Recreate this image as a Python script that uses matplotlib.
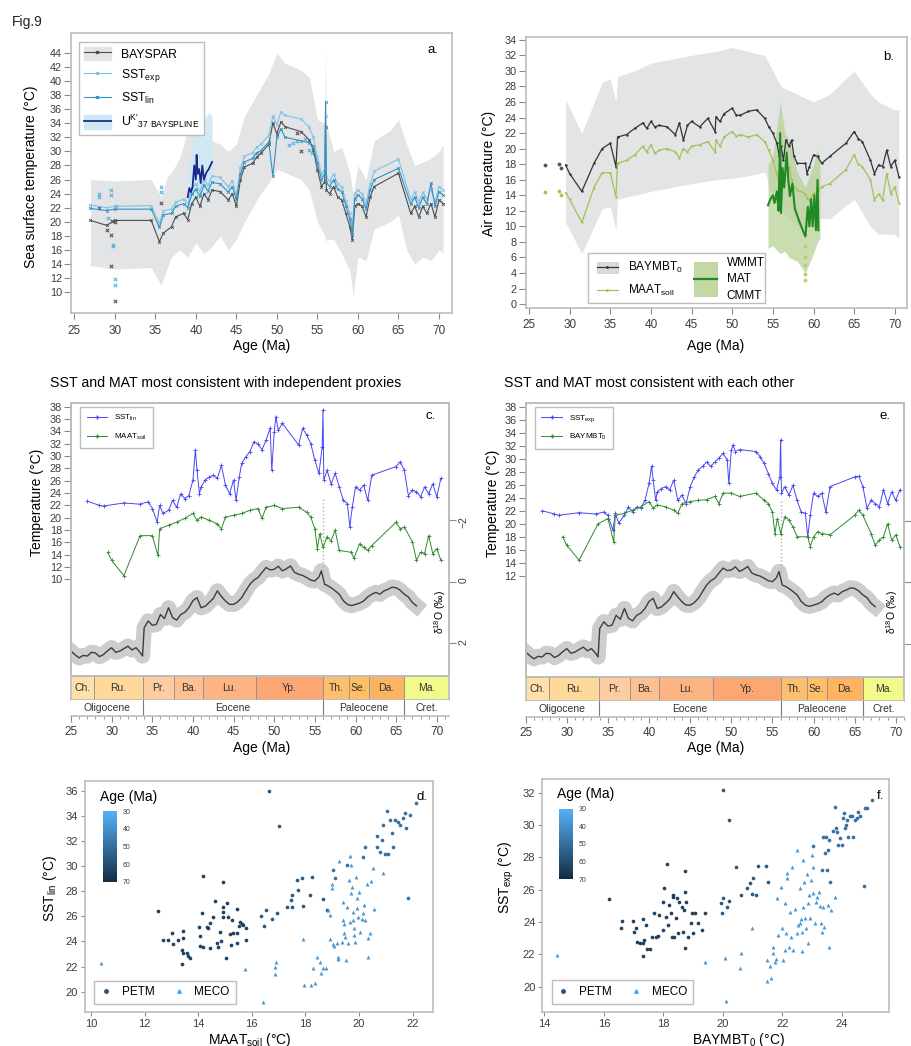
import matplotlib
matplotlib.use('Agg')
import matplotlib.pyplot as plt
from matplotlib.patches import Patch, Rectangle
from matplotlib.lines import Line2D
from matplotlib.colors import LinearSegmentedColormap, Normalize
from matplotlib.cm import ScalarMappable

plt.rcParams['font.family'] = ['Liberation Sans', 'DejaVu Sans']
plt.rcParams['mathtext.fontset'] = 'custom'
plt.rcParams['mathtext.rm'] = 'Liberation Sans'
plt.rcParams['mathtext.default'] = 'regular'
plt.rcParams['axes.edgecolor'] = '#bdbdbd'
plt.rcParams['axes.linewidth'] = 1.2
plt.rcParams['xtick.color'] = '#8a8a8a'
plt.rcParams['ytick.color'] = '#8a8a8a'
plt.rcParams['xtick.labelcolor'] = '#3c3c3c'
plt.rcParams['ytick.labelcolor'] = '#3c3c3c'

W, H = 912, 1046

# ---------------- panel a: SST reconstructions ----------------
a_age = [27, 29, 30, 34.5, 35.5, 36, 37, 37.5, 38.5, 39, 39.5, 40, 40.5, 41, 41.5,
         42, 43, 44, 44.5, 45, 45.5, 46, 47, 47.5, 48, 49, 49.5, 50, 50.5, 51,
         53, 54, 54.5, 55, 55.5, 55.9, 56, 56.1, 56.5, 57, 57.5, 58, 58.5, 59, 59.3,
         59.6, 60, 60.5, 61, 61.5, 62, 65, 66.5, 67, 67.5, 68, 68.5, 69, 69.5, 70, 70.5]
bayspar = [20.2, 19.5, 20.2, 20.2, 17.2, 18.4, 19.3, 20.7, 21.2, 20.3, 22.6, 23.5, 22.2, 24.0, 23.1,
           24.5, 24.3, 23.1, 24.0, 22.2, 26.0, 27.8, 28.3, 29.2, 29.7, 31.0, 34.0, 32.5, 34.2, 33.5,
           32.8, 31.6, 30.2, 27.4, 25.0, 25.7, 33.5, 24.5, 24.0, 25.0, 23.5, 23.1, 21.2, 19.3, 17.4,
           22.2, 22.6, 22.2, 20.7, 23.5, 25.0, 26.9, 21.2, 22.2, 20.7, 22.2, 21.2, 22.6, 20.7, 23.1, 22.6]
sst_exp_a = [22.4, 22.0, 22.2, 22.3, 19.8, 21.6, 21.8, 22.8, 23.2, 22.6, 24.6, 25.4, 24.3, 26.0, 25.2,
             26.5, 26.3, 25.0, 25.8, 23.8, 27.6, 29.3, 29.8, 30.6, 31.0, 32.3, 35.0, 33.8, 35.6, 35.1,
             34.6, 33.4, 32.0, 29.2, 26.8, 27.5, 35.0, 26.3, 25.8, 26.8, 25.3, 25.0, 23.0, 21.2, 19.2,
             24.0, 24.5, 24.0, 22.6, 25.3, 27.2, 28.9, 23.2, 24.2, 22.8, 24.2, 23.2, 24.6, 22.8, 25.0, 24.5]
sst_lin_a = [21.9, 21.6, 21.8, 21.8, 19.2, 21.0, 21.2, 22.2, 22.6, 22.0, 23.9, 24.6, 23.6, 25.2, 24.4,
             25.6, 25.4, 24.2, 25.0, 23.2, 26.8, 28.5, 29.0, 29.8, 30.1, 31.3, 26.5, 32.0, 33.2, 32.0,
             31.5, 31.2, 30.8, 28.3, 26.0, 26.8, 37.0, 25.6, 25.0, 26.0, 24.6, 24.3, 22.3, 20.4, 18.2,
             23.2, 23.8, 23.3, 21.8, 24.5, 26.0, 27.6, 22.5, 23.5, 22.0, 23.5, 22.5, 25.5, 22.2, 24.3, 23.8]
a_env_age = [27, 30, 34.5, 35.7, 36.5, 37, 38, 39, 40, 41, 42, 43, 44, 45, 46, 47, 48, 49, 50, 51,
             53, 54, 55, 55.9, 56, 56.1, 57, 58, 59, 59.4, 60, 61, 62, 64, 65, 66, 67, 68, 69, 70, 70.5]
a_env_hi = [26.0, 25.8, 26.0, 23.5, 26.5, 27.0, 29.0, 33.0, 34.5, 32.0, 31.5, 31.0, 30.0, 31.0, 35.0,
            37.0, 39.0, 41.0, 44.0, 42.5, 41.5, 40.5, 34.5, 34.0, 45.0, 34.0, 30.0, 30.5, 27.0, 24.0,
            28.0, 26.0, 31.5, 33.0, 34.5, 31.0, 28.0, 28.5, 29.0, 30.0, 31.0]
a_env_lo = [13.8, 13.3, 13.5, 11.0, 13.5, 15.0, 16.0, 15.0, 17.0, 15.5, 16.5, 18.0, 16.0, 17.5, 20.0,
            22.0, 24.0, 25.5, 27.5, 27.0, 26.0, 24.5, 20.0, 18.0, 17.0, 17.5, 17.5, 15.5, 13.0, 9.5,
            15.0, 14.5, 19.0, 20.0, 21.0, 16.0, 14.0, 15.0, 14.5, 16.0, 15.5]
uk_age = [39.0, 39.2, 39.4, 39.6, 39.8, 40.0, 40.1, 40.2, 40.4, 40.6, 40.8, 41.0, 41.3, 41.6, 42.0]
uk_val = [23.5, 24.8, 24.2, 25.0, 28.0, 26.0, 29.5, 26.8, 27.5, 25.5, 28.0, 26.0, 27.0, 27.5, 28.5]
uk_hi = [27.5, 29.0, 30.0, 31.5, 34.0, 33.0, 36.0, 37.5, 35.0, 34.0, 36.0, 34.5, 35.0, 35.5, 35.0]
uk_lo = [21.0, 21.5, 21.5, 22.0, 23.5, 22.5, 24.5, 25.0, 22.5, 22.0, 24.0, 22.5, 23.0, 24.0, 25.0]
a_pts_blue_age = [28, 28, 29.5, 29.5, 29.2, 29.8, 29.8, 30, 30, 35.7, 35.7, 30.1, 51.5, 52, 52.5, 53.5, 54, 54.3]
a_pts_blue = [24.0, 23.5, 24.5, 23.8, 20.6, 16.5, 16.7, 11.9, 11.0, 24.9, 24.3, 22.3, 30.9, 31.2, 31.5, 31.8, 30.2, 29.8]
a_pts_gray_age = [28, 29, 29.5, 29.6, 30, 29.5, 30, 35.7, 52.5, 53]
a_pts_gray = [22.0, 18.8, 18.2, 20.1, 20.0, 13.8, 8.7, 22.7, 32.6, 30.0]

# ---------------- panel b: air temperatures ----------------
b_age = [29.5, 30, 31.5, 33, 34, 35, 35.7, 35.9, 37, 38, 39, 39.5, 40, 40.5, 41, 42, 43, 43.5, 44, 44.5,
         45, 46, 47, 47.9, 48, 48.5, 49, 50, 50.5, 51, 52, 53, 54, 54.5, 55, 55.5, 55.8, 56, 56.3, 56.6,
         57, 57.3, 57.6, 58, 59, 59.2, 59.5, 60, 60.5, 61, 62, 64, 65, 65.5, 66, 67, 67.5, 68, 68.5, 69,
         69.5, 70, 70.5]
baymbt_b = [17.9, 16.8, 14.5, 18.1, 20.0, 20.7, 17.7, 21.5, 21.8, 22.6, 23.3, 22.6, 23.5, 22.8, 23.0,
            22.8, 21.8, 23.3, 21.1, 23.0, 23.5, 22.8, 23.9, 22.2, 24.1, 23.5, 24.5, 25.2, 24.3, 24.3,
            24.8, 25.0, 23.9, 22.8, 22.0, 20.7, 19.0, 20.3, 18.5, 21.1, 20.3, 21.1, 19.0, 18.1, 18.1,
            16.8, 17.7, 19.2, 19.0, 18.1, 19.0, 20.7, 22.2, 21.3, 20.9, 18.5, 16.8, 17.9, 17.7, 19.8,
            17.7, 18.5, 16.4]
maat_b = [14.3, 13.5, 10.5, 15.0, 16.9, 16.9, 13.8, 18.1, 18.5, 19.2, 20.3, 19.6, 20.5, 19.4, 19.8,
          20.0, 19.6, 18.8, 20.0, 19.6, 20.3, 20.5, 20.9, 19.6, 21.1, 20.3, 21.5, 22.2, 21.6, 21.8,
          21.5, 21.8, 20.9, 19.8, 18.5, 16.8, 15.5, 17.7, 15.5, 17.2, 17.7, 16.0, 15.1, 14.7, 14.2,
          13.6, 13.4, 14.2, 14.6, 15.1, 15.5, 17.3, 19.2, 18.0, 17.7, 16.0, 13.4, 14.2, 13.4, 16.8,
          14.2, 15.1, 13.0]
b_env_age = [29.5, 31.5, 34, 35, 35.7, 35.9, 38, 40, 45, 48, 50, 52, 54, 55, 56, 57, 58, 59, 60, 62,
             65, 67, 68, 70, 70.5]
b_env_hi = [26.3, 22.0, 28.5, 29.0, 26.0, 29.3, 30.0, 31.0, 32.0, 32.5, 33.0, 32.5, 32.0, 30.0, 28.0,
            27.5, 27.0, 26.5, 26.0, 27.0, 30.0, 27.0, 26.0, 25.0, 25.0]
b_env_lo = [10.5, 6.5, 12.3, 12.5, 9.5, 13.5, 14.0, 14.5, 15.5, 16.0, 16.2, 16.5, 17.0, 14.0, 12.0,
            11.0, 10.0, 9.5, 11.0, 11.0, 13.5, 10.0, 9.0, 9.0, 8.5]
b_pts_age = [27, 28.7, 28.9]
b_pts_mbt = [17.9, 18.0, 17.5]
b_pts_maat = [14.4, 14.5, 14.0]
b_drop_age = [59, 59, 59, 59, 59, 59]
b_drop_maat = [9.0, 7.5, 6.0, 5.0, 3.9, 3.1]
mat_age = [54.4, 54.7, 55.0, 55.2, 55.5, 55.7, 55.9, 56.0, 56.2, 56.4, 56.7, 56.9, 57.1, 57.4, 57.7,
           58.3, 59.0, 59.3, 59.5, 59.7, 59.9, 60.1, 60.3, 60.5, 60.6]
mat = [12.7, 13.5, 14.0, 13.0, 14.5, 12.0, 22.0, 11.7, 17.5, 15.0, 19.5, 16.0, 13.9, 15.5, 12.3,
       10.5, 8.7, 12.5, 10.0, 13.5, 10.0, 14.0, 9.5, 16.0, 9.5]
mm_age = [54.4, 55.0, 55.9, 56.5, 57.0, 58.0, 59.0, 60.0, 60.5, 60.8]
wmmt = [18.0, 19.0, 26.0, 22.0, 21.0, 17.0, 15.0, 18.0, 20.0, 18.0]
cmmt = [7.2, 7.5, 6.5, 6.8, 6.0, 5.5, 4.0, 6.5, 8.0, 8.5]

# ---------------- panels c and e: selected records + benthic d18O ----------------
c_sst_age = [27, 28.5, 29, 31.5, 33.5, 34.5, 35, 35.6, 35.9, 36.3, 37, 37.5, 38, 38.5, 39, 39.5, 40,
             40.3, 40.5, 40.8, 41, 41.5, 42, 42.5, 43, 43.5, 44, 44.5, 45, 45.3, 45.7, 46, 46.5, 47,
             47.5, 48, 48.5, 49, 49.5, 49.7, 50, 50.2, 50.5, 51, 53, 53.5, 54, 54.5, 55, 55.5, 55.9,
             56, 56.1, 56.5, 57, 57.5, 58, 58.5, 59, 59.3, 59.6, 60, 60.5, 61, 61.5, 62, 65, 65.5, 66,
             66.5, 67, 67.5, 68, 68.5, 69, 69.5, 70, 70.5]
c_sst = [22.7, 22.0, 21.9, 22.4, 22.2, 22.6, 21.5, 19.3, 22.0, 20.7, 21.2, 22.8, 21.7, 23.9, 23.1,
         23.6, 26.1, 31.0, 27.7, 23.9, 25.0, 26.1, 26.6, 26.9, 26.4, 28.5, 25.3, 23.9, 26.1, 22.8,
         26.6, 28.8, 29.9, 30.7, 32.3, 32.0, 31.0, 32.6, 34.5, 27.7, 33.9, 36.4, 34.2, 35.3, 31.8,
         34.5, 33.4, 32.0, 29.3, 27.2, 31.5, 37.5, 26.1, 27.7, 25.5, 27.2, 25.0, 22.8, 22.3, 18.5,
         21.7, 25.0, 24.5, 25.3, 22.8, 26.9, 28.3, 29.1, 27.7, 23.6, 24.5, 24.2, 23.4, 25.0, 23.9,
         25.5, 23.4, 26.4]
c_maat_age = [29.5, 30, 31.5, 33.5, 35, 35.7, 35.9, 37, 38, 39, 40, 40.5, 41, 42, 43, 43.5, 44, 45,
              46, 47, 48, 48.5, 49, 50, 51, 53, 54, 54.5, 55, 55.3, 55.6, 56, 56.5, 57, 57.5, 58,
              59.5, 59.8, 60.5, 61, 61.5, 62, 65, 65.5, 66, 67, 67.5, 68, 68.5, 69, 69.5, 70, 70.5]
c_maat = [14.4, 13.1, 10.6, 17.1, 17.1, 13.9, 18.2, 18.8, 19.3, 19.9, 20.7, 19.6, 20.1, 19.6, 19.0,
          18.2, 20.1, 20.4, 20.7, 21.2, 21.5, 19.9, 21.7, 22.0, 21.5, 21.7, 20.9, 20.1, 18.2, 15.0,
          17.4, 15.2, 16.9, 16.3, 18.0, 14.7, 14.4, 13.4, 15.8, 15.2, 14.7, 15.5, 19.3, 18.2, 18.5,
          16.1, 13.1, 14.4, 14.2, 17.1, 14.2, 15.0, 13.1]
e_sst_age = [27, 28.5, 29, 31.5, 33.5, 34.5, 35, 35.6, 35.9, 36.3, 37, 37.5, 38, 38.5, 39, 39.5, 40,
             40.3, 40.5, 40.8, 41, 41.5, 42, 42.5, 43, 43.5, 44, 44.5, 45, 45.5, 46, 46.5, 47, 47.5,
             48, 48.5, 49, 49.5, 49.7, 50, 50.2, 50.5, 51, 53, 53.5, 54, 54.5, 55, 55.5, 55.9, 56,
             56.1, 56.5, 57, 57.5, 58, 58.5, 59, 59.3, 59.6, 60, 60.5, 61, 61.5, 62, 65, 65.5, 66,
             66.5, 67, 67.5, 68, 68.5, 69, 69.5, 70, 70.5]
e_sst = [22.0, 21.5, 21.3, 21.7, 21.5, 21.8, 21.3, 19.0, 21.6, 20.1, 21.3, 22.6, 21.8, 22.6, 22.4,
         23.6, 26.2, 28.8, 26.7, 23.6, 24.9, 25.4, 25.7, 25.2, 26.7, 23.6, 24.4, 23.1, 25.7, 27.2,
         28.3, 28.8, 29.5, 28.8, 29.5, 30.1, 30.8, 29.8, 26.2, 31.3, 32.1, 31.1, 31.4, 31.1, 30.3,
         29.3, 27.7, 26.2, 25.2, 27.2, 32.9, 24.7, 25.7, 24.4, 25.9, 23.6, 21.8, 21.6, 18.0, 21.3,
         24.7, 24.2, 24.7, 21.8, 25.7, 27.2, 27.3, 25.7, 22.4, 23.6, 23.1, 22.6, 25.2, 23.1, 24.9,
         23.6, 25.2]
e_mbt_age = [29.5, 30, 31.5, 33.8, 35, 35.7, 35.9, 37, 38, 39, 40, 40.5, 41, 42, 43, 43.5, 44, 45,
             46, 47, 48, 48.5, 49, 50, 51, 53, 54, 54.5, 55, 55.3, 55.6, 56, 56.5, 57, 57.5, 58,
             59.3, 59.6, 60, 60.5, 61, 62, 65, 65.5, 66, 67, 67.5, 68, 68.5, 69, 69.5, 70, 70.5]
e_mbt = [18.0, 16.7, 14.4, 20.0, 20.8, 17.2, 21.3, 21.6, 22.1, 22.6, 23.4, 22.4, 22.9, 22.6, 22.1,
         21.6, 23.1, 23.4, 23.6, 23.7, 24.2, 23.1, 24.7, 24.7, 24.2, 24.7, 23.6, 23.1, 21.8, 18.5,
         20.8, 18.5, 21.1, 20.6, 19.5, 18.0, 18.0, 16.5, 18.0, 18.8, 18.5, 18.3, 21.3, 22.1, 21.3,
         18.5, 16.7, 17.5, 18.0, 20.0, 17.5, 18.3, 16.5]
d18_age = [25, 25.5, 26, 26.5, 27, 27.5, 28, 28.5, 29, 29.5, 30, 30.5, 31, 31.5, 32, 32.5, 33, 33.5,
           33.8, 34, 34.5, 35, 35.5, 36, 36.5, 37, 37.5, 38, 38.5, 39, 39.5, 40, 40.5, 41, 41.5, 42,
           42.5, 43, 43.5, 44, 44.5, 45, 45.5, 46, 46.5, 47, 47.5, 48, 48.5, 49, 49.5, 50, 50.5, 51,
           51.5, 52, 52.5, 53, 53.5, 54, 54.5, 55, 55.5, 55.8, 56.2, 56.5, 57, 57.5, 58, 58.5, 59,
           59.5, 60, 60.5, 61, 61.5, 62, 62.5, 63, 63.5, 64, 64.5, 65, 65.5, 66, 66.5, 67, 67.5]
d18 = [2.26, 2.38, 2.48, 2.40, 2.42, 2.30, 2.32, 2.44, 2.37, 2.25, 2.15, 2.30, 2.26, 2.18, 2.10,
       2.22, 2.15, 2.30, 2.42, 1.50, 1.28, 1.42, 1.39, 1.07, 1.20, 0.85, 1.17, 1.25, 1.07, 1.00,
       0.85, 0.62, 0.52, 0.85, 0.80, 0.68, 0.55, 0.30, 0.48, 0.63, 0.74, 0.74, 0.66, 0.52, 0.30,
       0.09, -0.05, -0.13, -0.30, -0.46, -0.38, -0.40, -0.50, -0.35, -0.42, -0.51, -0.30, -0.24,
       -0.20, -0.13, -0.05, -0.02, -0.15, -0.35, 0.09, 0.12, 0.20, 0.30, 0.41, 0.62, 0.74, 0.78,
       0.74, 0.70, 0.63, 0.50, 0.41, 0.35, 0.41, 0.30, 0.25, 0.18, 0.20, 0.28, 0.41, 0.50, 0.68, 0.79]
petm_c = [23.0, 11.5]
petm_e = [23.5, 12.5]

stage_names = ['Ch.', 'Ru.', 'Pr.', 'Ba.', 'Lu.', 'Yp.', 'Th.', 'Se.', 'Da.', 'Ma.']
stage_start = [23.03, 27.82, 33.9, 37.71, 41.2, 47.8, 56.0, 59.2, 61.6, 66.0]
stage_end = [27.82, 33.9, 37.71, 41.2, 47.8, 56.0, 59.2, 61.6, 66.0, 72.1]
stage_colors = ['#FEE0AA', '#FED99A', '#FDCDA1', '#FDC091', '#FCB482', '#FCA773',
                '#FDBF6F', '#FEBF65', '#FDB462', '#F2FA8C']
epoch_names = ['Oligocene', 'Eocene', 'Paleocene', 'Cret.']
epoch_bounds = [23.03, 33.9, 56.0, 66.0, 72.1]

# ---------------- panels d and f: SST vs MAT cross-plots ----------------
d_a_maat = [12.49, 12.70, 12.86, 13.01, 13.07, 13.26, 13.38, 13.42, 13.38, 13.45, 13.45, 13.57, 13.63,
            13.69, 14.04, 14.07, 14.07, 14.13, 14.17, 14.17, 14.32, 14.38, 14.44, 14.44, 14.57, 14.63,
            14.69, 14.75, 14.81, 14.84, 14.91, 14.91, 14.94, 14.94, 15.04, 15.06, 15.12, 15.19, 15.21,
            15.25, 15.31, 15.44, 15.46, 15.46, 15.53, 15.58, 15.62, 15.68, 15.78, 15.78]
d_a_sst = [26.43, 24.11, 24.11, 24.70, 23.79, 24.11, 23.31, 23.05, 22.17, 24.86, 24.24, 23.10, 22.84,
           22.70, 25.18, 24.46, 23.66, 26.24, 23.58, 29.22, 25.18, 25.10, 25.49, 23.50, 25.97, 27.22,
           23.85, 23.58, 24.78, 24.06, 26.77, 26.37, 25.97, 28.74, 22.68, 27.04, 25.97, 24.56, 23.71,
           25.71, 24.64, 26.58, 23.85, 24.64, 25.23, 25.57, 25.39, 25.31, 25.04, 24.11]
d_b_maat = [16.33, 16.47, 16.55, 16.63, 16.74, 16.93, 17.03, 17.33, 17.45, 17.49, 17.49, 17.67, 17.74,
            17.86, 17.92, 18.23, 18.17, 18.67, 18.79]
d_b_sst = [26.05, 25.23, 26.51, 36.00, 25.81, 26.24, 33.18, 26.77, 27.30, 26.77, 27.70, 28.90, 28.10,
           29.03, 26.85, 29.16, 27.70, 27.36, 26.51]
d_c_maat = [19.02, 19.10, 19.54, 20.16, 20.22, 20.66, 20.66, 20.78, 20.85, 20.91, 20.97, 21.03, 21.09,
            21.16, 21.22, 21.28, 21.34, 21.47, 21.53, 21.65, 21.72, 21.75, 21.84, 21.90, 22.13]
d_c_sst = [29.70, 29.03, 30.10, 30.76, 31.56, 32.41, 31.56, 31.16, 32.09, 33.29, 30.95, 34.40, 30.97,
           33.69, 32.62, 31.56, 33.69, 33.55, 33.29, 33.82, 34.22, 33.02, 27.49, 34.09, 35.02]
d_meco_maat = [10.37, 15.75, 16.43, 16.87, 16.90, 16.87, 17.95, 17.92, 18.20, 18.36, 18.42, 18.30, 18.54,
               18.60, 18.67, 18.77, 18.92, 18.85, 18.92, 18.98, 18.98, 19.04, 19.08, 19.17, 19.20, 19.23,
               19.27, 19.35, 19.42, 19.42, 19.44, 19.45, 19.48, 19.51, 19.54, 19.60, 19.63, 19.66, 19.66,
               19.70, 19.72, 19.75, 19.79, 19.79, 19.83, 19.83, 19.85, 19.89, 19.91, 19.94, 19.98, 20.01,
               20.04, 20.10, 20.16, 20.19, 20.22, 20.29, 20.35, 20.41, 20.32, 20.44, 20.53, 20.56, 20.88]
d_meco_sst = [22.25, 21.77, 19.19, 21.98, 22.38, 21.37, 20.52, 24.19, 20.52, 20.65, 22.78, 21.90, 22.38,
              21.50, 21.90, 21.85, 24.19, 26.51, 26.11, 28.58, 28.23, 23.77, 23.66, 23.90, 22.78, 22.57,
              30.41, 23.98, 27.17, 25.71, 25.36, 24.64, 24.38, 22.52, 26.77, 23.90, 28.90, 25.57, 30.84,
              30.10, 27.83, 28.37, 26.37, 25.71, 25.04, 24.51, 23.98, 29.16, 27.49, 26.64, 25.97, 27.96,
              24.78, 25.79, 26.24, 26.90, 25.71, 28.55, 24.24, 24.64, 22.78, 28.82, 29.88, 26.56, 29.43]

f_a_mbt = [16.19, 16.62, 16.58, 16.99, 17.02, 17.08, 17.11, 17.22, 17.31, 17.31, 17.35, 17.33, 17.42,
           17.44, 17.55, 17.63, 17.69, 17.76, 17.83, 17.86, 17.98, 18.00, 18.02, 18.09, 18.14, 18.17,
           18.20, 18.25, 18.28, 18.32, 18.34, 18.37, 18.43, 18.45, 18.51, 18.54, 18.62, 18.65, 18.68,
           18.73, 18.74, 18.73, 18.76, 18.84, 18.92, 18.96, 19.01, 19.07, 19.18, 19.29, 19.40]
f_a_sst = [25.40, 24.06, 23.61, 24.06, 23.40, 23.61, 22.78, 22.68, 24.16, 21.90, 22.89, 22.68, 23.81,
           22.33, 22.33, 23.09, 24.54, 23.09, 23.13, 24.43, 23.51, 25.26, 26.08, 24.33, 27.59, 23.81,
           25.05, 24.54, 23.09, 25.67, 25.57, 23.09, 24.23, 25.46, 23.30, 25.26, 24.95, 23.40, 24.74,
           22.37, 27.18, 25.88, 25.26, 23.09, 23.92, 24.54, 23.30, 24.54, 23.92, 23.51, 24.58]
f_b_mbt = [19.93, 19.96, 20.00, 20.02, 20.13, 20.22, 20.22, 20.45, 20.60, 20.83, 20.92, 20.97, 21.00,
           21.12, 21.17, 21.44, 21.53]
f_b_sst = [25.15, 24.54, 32.16, 25.46, 24.95, 30.31, 25.32, 27.38, 25.67, 26.08, 26.39, 25.73, 26.74,
           25.67, 27.46, 27.46, 26.49]
f_c_mbt = [23.05, 23.38, 23.47, 23.55, 23.58, 23.72, 23.78, 23.81, 23.83, 23.89, 23.94, 24.00, 24.03,
           24.06, 24.11, 24.15, 24.17, 24.22, 24.28, 24.34, 24.39, 24.45, 24.50, 24.56, 24.62, 24.78,
           24.86, 24.75, 25.03, 23.33, 23.44, 23.50, 23.61]
f_c_sst = [28.70, 29.28, 29.24, 28.45, 29.07, 29.65, 31.13, 29.79, 29.59, 28.76, 29.18, 28.76, 30.41,
           30.72, 29.79, 30.00, 30.31, 29.28, 30.58, 30.56, 29.24, 30.31, 30.41, 30.82, 30.56, 31.03,
           31.03, 26.25, 31.51, 27.22, 28.25, 27.22, 26.49]
f_meco_mbt = [14.41, 19.40, 20.08, 20.10, 20.58, 20.61, 20.97, 21.48, 21.48, 21.59, 21.61, 21.68, 21.70,
              21.76, 21.79, 21.84, 21.87, 21.95, 21.98, 22.04, 22.09, 22.09, 22.13, 22.15, 22.17, 22.24,
              22.26, 22.28, 22.32, 22.35, 22.43, 22.49, 22.51, 22.54, 22.58, 22.60, 22.62, 22.65, 22.65,
              22.69, 22.71, 22.73, 22.77, 22.80, 22.82, 22.85, 22.88, 22.91, 22.94, 22.96, 22.99, 23.02,
              23.05, 23.10, 23.14, 23.16, 23.22, 23.27, 23.29, 23.33, 23.36, 23.41, 23.55, 23.58, 23.63,
              23.78]
f_meco_sst = [21.96, 21.55, 21.75, 19.11, 21.13, 22.06, 23.65, 21.65, 20.35, 21.28, 20.52, 22.06, 22.47,
              21.55, 21.69, 25.51, 23.20, 26.19, 23.65, 21.65, 22.27, 25.15, 23.30, 26.70, 27.05, 22.47,
              24.64, 23.09, 27.42, 22.27, 24.78, 28.45, 23.34, 23.81, 26.08, 23.92, 24.16, 22.23, 23.40,
              24.95, 27.84, 26.49, 24.23, 23.61, 26.97, 25.15, 22.68, 25.67, 24.23, 26.60, 28.14, 25.77,
              27.42, 23.92, 25.26, 25.57, 25.88, 24.99, 23.96, 23.40, 24.95, 23.71, 25.05, 22.47, 24.74,
              25.57]
# representative age (Ma) of each group, used for colouring
age_a, age_b, age_c, age_meco = 63, 56, 49, 38

fig = plt.figure(figsize=(W / 100, H / 100), dpi=100)


def rect(x0, y0, x1, y1):
    return [x0 / W, 1 - y1 / H, (x1 - x0) / W, (y1 - y0) / H]


def ftext(px, py, s, **kw):
    fig.text(px / W, 1 - py / H, s, **kw)


ftext(12, 22, 'Fig.9', fontsize=10, va='center', color='#222222')

# ---- a ----
ax = fig.add_axes(rect(71, 33, 452, 313))
ax.fill_between(a_env_age, a_env_lo, a_env_hi, color='#e3e4e6', lw=0)
ax.fill_between(uk_age, uk_lo, uk_hi, color='#cfe8f4', lw=0, alpha=0.9)
ax.plot(a_age, bayspar, color='#4d4d4d', lw=0.8, marker='x', ms=2, mew=0.6)
ax.plot(a_age, sst_exp_a, color='#7cc4e8', lw=0.8, marker='x', ms=2, mew=0.6)
ax.plot(a_age, sst_lin_a, color='#3590c2', lw=0.8, marker='x', ms=2, mew=0.6)
ax.plot(uk_age, uk_val, color='#1c2a8f', lw=1.3)
ax.scatter(a_pts_blue_age, a_pts_blue, marker='x', s=6, color='#5ab4e0', lw=0.8)
ax.scatter(a_pts_gray_age, a_pts_gray, marker='x', s=6, color='#555555', lw=0.8)
ax.set_xlim(24.6, 71.6)
ax.set_ylim(7.06, 46.8)
ax.set_xticks(range(25, 71, 5))
ax.set_yticks(range(10, 45, 2))
ax.tick_params(axis='x', labelsize=8.5, length=4, pad=4.5)
ax.tick_params(axis='y', labelsize=7.8, length=5, pad=1.5)
h_bay = (Patch(color='#e3e4e6'), Line2D([], [], color='#4d4d4d', lw=0.8, marker='x', ms=2))
h_exp = Line2D([], [], color='#7cc4e8', lw=0.8, marker='x', ms=2)
h_lin = Line2D([], [], color='#3590c2', lw=0.8, marker='x', ms=2)
h_uk = (Patch(color='#cfe8f4'), Line2D([], [], color='#1c2a8f', lw=1.3))
leg = ax.legend([h_bay, h_exp, h_lin, h_uk],
                ['BAYSPAR', 'SST$_{exp}$', 'SST$_{lin}$', "U$^{K\\prime}$$_{37\\ BAYSPLINE}$"],
                loc='upper left', bbox_to_anchor=(0.021, 0.968), borderaxespad=0, fontsize=8.8,
                handlelength=2.2, handleheight=1.3, labelspacing=0.55, fancybox=False,
                edgecolor='#bdbdbd', framealpha=1)
leg.get_frame().set_linewidth(1.0)
ax.text(0.965, 0.94, 'a.', transform=ax.transAxes, fontsize=9.5, ha='right', va='center')
ftext(31, 177, 'Sea surface temperature (°C)', rotation=90, fontsize=10, ha='center', va='center')
ftext(262, 346, 'Age (Ma)', fontsize=10, ha='center', va='center')

# ---- b ----
ax = fig.add_axes(rect(525.7, 36.7, 907, 308))
ax.fill_between(b_env_age, b_env_lo, b_env_hi, color='#e3e4e6', lw=0)
ax.fill_between(mm_age, cmmt, wmmt, color='#b9d296', lw=0, alpha=0.75)
ax.plot(b_age, baymbt_b, color='#333333', lw=0.9, marker='.', ms=1.5)
ax.plot(b_age, maat_b, color='#a8c055', lw=0.9, marker='.', ms=1.5)
ax.plot(mat_age, mat, color='#1f8a24', lw=1.5)
ax.scatter(b_pts_age, b_pts_mbt, s=3, color='#555555')
ax.scatter(b_pts_age, b_pts_maat, s=3, color='#a8c055')
ax.scatter(b_drop_age, b_drop_maat, s=3, color='#b8cc70')
ax.set_xlim(24.6, 71.5)
ax.set_ylim(-0.5, 34.4)
ax.set_xticks(range(25, 71, 5))
ax.set_yticks(range(0, 35, 2))
ax.tick_params(axis='x', labelsize=8.5, length=4, pad=4)
ax.tick_params(axis='y', labelsize=7.8, length=5, pad=1.5)
ax.add_patch(Rectangle((0.163, 0.017), 0.464, 0.185, transform=ax.transAxes, fc='white',
                       ec='#bdbdbd', lw=1.0, zorder=5))
ax.add_patch(Rectangle((0.186, 0.128), 0.057, 0.043, transform=ax.transAxes, fc='#dadbdd',
                       ec='#c8c8c8', lw=0.5, zorder=6))
ax.plot([0.186, 0.243], [0.150, 0.150], transform=ax.transAxes, color='#333333', lw=0.9,
        zorder=7)
ax.plot([0.2145], [0.150], transform=ax.transAxes, marker='.', ms=2, color='#333333', zorder=7)
ax.plot([0.186, 0.243], [0.066, 0.066], transform=ax.transAxes, color='#a8c055', lw=0.9,
        zorder=7)
ax.plot([0.2145], [0.066], transform=ax.transAxes, marker='.', ms=2, color='#a8c055', zorder=7)
ax.text(0.269, 0.150, 'BAYMBT$_0$', transform=ax.transAxes, fontsize=8.5, va='center', zorder=7)
ax.text(0.269, 0.066, 'MAAT$_{soil}$', transform=ax.transAxes, fontsize=8.5, va='center', zorder=7)
ax.add_patch(Rectangle((0.442, 0.044), 0.059, 0.127, transform=ax.transAxes, fc='#c3d8a3',
                       ec='#b0c890', lw=0.5, zorder=6))
ax.plot([0.442, 0.501], [0.108, 0.108], transform=ax.transAxes, color='#1f8a24', lw=1.6,
        zorder=7)
ax.text(0.527, 0.167, 'WMMT', transform=ax.transAxes, fontsize=8.5, va='center', zorder=7)
ax.text(0.527, 0.106, 'MAT', transform=ax.transAxes, fontsize=8.5, va='center', zorder=7)
ax.text(0.527, 0.044, 'CMMT', transform=ax.transAxes, fontsize=8.5, va='center', zorder=7)
ax.text(0.965, 0.925, 'b.', transform=ax.transAxes, fontsize=9.5, ha='right', va='center')
ftext(489, 173, 'Air temperature (°C)', rotation=90, fontsize=10, ha='center', va='center')
ftext(716, 346, 'Age (Ma)', fontsize=10, ha='center', va='center')


def timescale(r_stage, r_epoch, xlim):
    axs = fig.add_axes(rect(*r_stage))
    for name, s, e, c in zip(stage_names, stage_start, stage_end, stage_colors):
        axs.barh(0.5, e - s, left=s, height=1, color=c, edgecolor='#8f8f8f', lw=0.6)
        xm = (max(s, xlim[0]) + min(e, xlim[1])) / 2
        axs.text(xm, 0.5, name, ha='center', va='center', fontsize=7.5, color='#333333')
    axs.set_xlim(*xlim)
    axs.set_ylim(0, 1)
    axs.set_xticks([])
    axs.set_yticks([])
    axe = fig.add_axes(rect(*r_epoch))
    for b in epoch_bounds[1:-1]:
        axe.axvline(b, color='#7a7a7a', lw=0.8)
    for name, s, e in zip(epoch_names, epoch_bounds[:-1], epoch_bounds[1:]):
        xm = (max(s, xlim[0]) + min(e, xlim[1])) / 2
        axe.text(xm, 0.5, name, ha='center', va='center', fontsize=7.5, color='#333333')
    axe.set_xlim(*xlim)
    axe.set_ylim(0, 1)
    axe.set_yticks([])
    for sp in ['left', 'right', 'top']:
        axe.spines[sp].set_visible(False)
    axe.set_xticks(range(25, 71, 5))
    axe.set_xticks(range(25, 72), minor=True)
    axe.tick_params(axis='x', labelsize=8.5, length=4, pad=3)
    axe.tick_params(axis='x', which='minor', length=2)


def proxy_panel(r_main, xlim, ylim, yticks, sst_age, sst, gdt_age, gdt, petm, labels, letter,
                d18_lab):
    ax = fig.add_axes(rect(*r_main))
    ax2 = ax.twinx()
    ax2.plot(d18_age, d18, color='#cdcdcd', lw=11, solid_joinstyle='round')
    ax2.plot(d18_age, d18, color='#3d3d3d', lw=1.0)
    ax2.set_ylim(3.06, -5.82)
    ax2.set_yticks([-2, 0, 2])
    ax2.tick_params(axis='y', labelsize=7.5, length=5, pad=2, labelrotation=90)
    ax.set_zorder(ax2.get_zorder() + 1)
    ax.patch.set_visible(False)
    ax.plot([56, 56], petm, color='#b0b0b0', lw=1, ls=':')
    ax.plot(sst_age, sst, color='#4848f2', lw=0.7, marker='+', ms=2.5, mew=0.6)
    ax.plot(gdt_age, gdt, color='#2f8a2f', lw=0.7, marker='+', ms=2.5, mew=0.6)
    ax.set_xlim(*xlim)
    ax.set_ylim(*ylim)
    ax.set_yticks(yticks)
    ax.set_xticks([])
    ax.tick_params(axis='y', labelsize=7.8, length=5, pad=1.5)
    h1 = Line2D([], [], color='#4848f2', lw=0.7, marker='+', ms=2.5)
    h2 = Line2D([], [], color='#2f8a2f', lw=0.7, marker='+', ms=2.5)
    leg = ax.legend([h1, h2], labels, loc='upper left', bbox_to_anchor=(0.024, 0.985),
                    borderaxespad=0, fontsize=5.8, handlelength=2.6, labelspacing=1.0,
                    fancybox=False, edgecolor='#bdbdbd', framealpha=1, borderpad=0.8)
    leg.get_frame().set_linewidth(1.0)
    ax.text(0.965, 0.95, letter, transform=ax.transAxes, fontsize=9.5, ha='right', va='center')
    ax.text(d18_lab[0], d18_lab[1], 'δ$^{18}$O (‰)', transform=ax.transAxes, rotation=90,
            fontsize=7.5, ha='center', va='center')
    timescale((r_main[0], r_main[3], r_main[2], r_main[3] + 24.3),
              (r_main[0], r_main[3] + 24.3, r_main[2], r_main[3] + 40.3), xlim)
    return ax


# ---- c ----
proxy_panel((71, 402.7, 449, 675.7), (25, 71.5), (-5.6, 38.65), range(10, 39, 2), c_sst_age,
            c_sst, c_maat_age, c_maat, petm_c, ['SST$_{lin}$', 'MAAT$_{soil}$'], 'c.',
            (0.976, 0.233))
ftext(50, 383, 'SST and MAT most consistent with independent proxies', fontsize=10.2,
      ha='left', va='center')
ftext(37, 502, 'Temperature (°C)', rotation=90, fontsize=10, ha='center', va='center')
ftext(262, 748, 'Age (Ma)', fontsize=10, ha='center', va='center')

# ---- e ----
proxy_panel((525.7, 402.7, 904, 676.7), (25, 71.0), (-3.5, 38.6), range(12, 39, 2), e_sst_age,
            e_sst, e_mbt_age, e_mbt, petm_e, ['SST$_{exp}$', 'BAYMBT$_0$'], 'e.',
            (0.9675, 0.237))
ftext(504, 383, 'SST and MAT most consistent with each other', fontsize=10.2,
      ha='left', va='center')
ftext(493, 503, 'Temperature (°C)', rotation=90, fontsize=10, ha='center', va='center')
ftext(716, 748, 'Age (Ma)', fontsize=10, ha='center', va='center')

# ---- d and f ----
cmap = LinearSegmentedColormap.from_list('age', ['#56B1F7', '#132B43'])
norm = Normalize(30, 70)


def cross_plot(r, xlim, ylim, xt, yt, groups, meco, letter, cbar_r, title_xy, ylab, xlab):
    ax = fig.add_axes(rect(*r))
    for gx, gy, ga in groups:
        ax.scatter(gx, gy, s=7, marker='o', color=cmap(norm(ga)), lw=0)
    ax.scatter(meco[0], meco[1], s=8, marker='^', color=cmap(norm(meco[2])), lw=0)
    ax.set_xlim(*xlim)
    ax.set_ylim(*ylim)
    ax.set_xticks(xt)
    ax.set_yticks(yt)
    ax.tick_params(labelsize=8, length=3, pad=2)
    h1 = Line2D([], [], color=cmap(norm(58)), marker='o', ls='', ms=2.5)
    h2 = Line2D([], [], color=cmap(norm(34)), marker='^', ls='', ms=2.5)
    leg = ax.legend([h1, h2], ['PETM', 'MECO'], ncol=2, loc='lower left',
                    bbox_to_anchor=(0.027, 0.032), borderaxespad=0, fontsize=8.5,
                    handlelength=1.0, columnspacing=1.6, fancybox=False, edgecolor='#bdbdbd',
                    framealpha=1, borderpad=0.5)
    leg.get_frame().set_linewidth(1.0)
    ax.text(0.985, 0.93, letter, transform=ax.transAxes, fontsize=9.5, ha='right', va='center')
    cax = fig.add_axes(rect(*cbar_r))
    cb = fig.colorbar(ScalarMappable(norm=norm, cmap=cmap), cax=cax)
    cax.invert_yaxis()
    cb.set_ticks([30, 40, 50, 60, 70])
    cb.outline.set_visible(False)
    cax.tick_params(labelsize=5, length=2, color='white', pad=2)
    ftext(title_xy[0], title_xy[1], 'Age (Ma)', fontsize=10, ha='left', va='center')
    ftext(ylab[0], ylab[1], ylab[2], rotation=90, fontsize=10, ha='center', va='center')
    ftext(xlab[0], xlab[1], xlab[2], fontsize=10, ha='center', va='center')


cross_plot((85, 781, 432.7, 1011.7), (9.78, 22.75), (18.4, 36.8), range(10, 23, 2),
           range(20, 37, 2),
           [(d_a_maat, d_a_sst, age_a), (d_b_maat, d_b_sst, age_b), (d_c_maat, d_c_sst, age_c)],
           (d_meco_maat, d_meco_sst, age_meco), 'd.', (103, 811, 117, 882), (100, 797),
           (50, 888, 'SST$_{lin}$ (°C)'), (250, 1040, 'MAAT$_{soil}$ (°C)'))
cross_plot((542.3, 779.3, 889, 1011.7), (13.93, 25.59), (18.45, 32.82), range(14, 25, 2),
           range(20, 33, 2),
           [(f_a_mbt, f_a_sst, age_a), (f_b_mbt, f_b_sst, age_b), (f_c_mbt, f_c_sst, age_c)],
           (f_meco_mbt, f_meco_sst, age_meco), 'f.', (559, 809, 573, 879), (557, 794),
           (506, 877, 'SST$_{exp}$ (°C)'), (738, 1040, 'BAYMBT$_0$ (°C)'))

fig.savefig('out.png', dpi=100)
